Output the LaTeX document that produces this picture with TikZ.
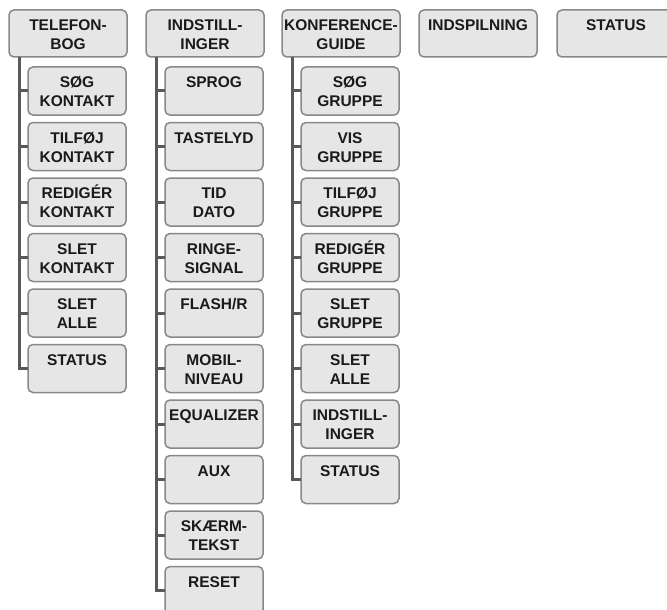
\documentclass[tikz,border=0pt]{standalone}
\usepackage{fontspec}
\setmainfont{Liberation Sans}
\definecolor{boxfill}{HTML}{E6E6E6}
\definecolor{boxline}{HTML}{888888}
\definecolor{spinegray}{HTML}{595959}
\definecolor{ink}{HTML}{1A1A1A}
\newcommand\capstrut{\rule{0pt}{14pt}}
\tikzset{
  menubox/.style={draw=boxline, fill=boxfill, line width=1.5pt, rounded corners=5pt,
    anchor=north west, inner sep=0pt, outer sep=0pt, minimum width=118pt, minimum height=47pt},
  subbox/.style={menubox, minimum width=98pt, minimum height=48pt},
  boxtext/.style={font=\bfseries\fontsize{15.5}{19}\selectfont, text=ink, align=center,
    inner sep=0pt, anchor=north, yshift=-6.5pt},
  spine/.style={draw=spinegray, line width=3pt},
}
\begin{document}
\begin{tikzpicture}[x=1pt, y=-1pt]
  \useasboundingbox (0,0) rectangle (667,610);
  \node[menubox, label={[boxtext]north:{\capstrut TELEFON-\\BOG}}] (tel) at (9,10) {};
  \node[menubox, label={[boxtext]north:{\capstrut INDSTILL-\\INGER}}] (ind) at (146,10) {};
  \node[menubox, label={[boxtext]north:{\capstrut KONFERENCE-\\GUIDE}}] (kon) at (282,10) {};
  \node[menubox, label={[boxtext]north:{\capstrut INDSPILNING}}] (rec) at (419,10) {};
  \node[menubox, label={[boxtext]north:{\capstrut STATUS}}] (sta) at (557,10) {};

  \foreach \txt [count=\i from 0] in {{SØG\\KONTAKT}, {TILFØJ\\KONTAKT}, {REDIGÉR\\KONTAKT},
      {SLET\\KONTAKT}, {SLET\\ALLE}, STATUS}
    \node[subbox, label={[boxtext]north:{\capstrut\txt}}] (tel\i) at (28,{67+55.5*\i}) {};
  \foreach \txt [count=\i from 0] in {SPROG, TASTELYD, {TID\\DATO}, {RINGE-\\SIGNAL}, FLASH/R,
      {MOBIL-\\NIVEAU}, EQUALIZER, AUX, {SKÆRM-\\TEKST}, RESET}
    \node[subbox, label={[boxtext]north:{\capstrut\txt}}] (ind\i) at (165,{67+55.5*\i}) {};
  \foreach \txt [count=\i from 0] in {{SØG\\GRUPPE}, {VIS\\GRUPPE}, {TILFØJ\\GRUPPE},
      {REDIGÉR\\GRUPPE}, {SLET\\GRUPPE}, {SLET\\ALLE}, {INDSTILL-\\INGER}, STATUS}
    \node[subbox, label={[boxtext]north:{\capstrut\txt}}] (kon\i) at (301,{67+55.5*\i}) {};

  \coordinate (telspine) at ([xshift=10.5pt]tel.south west);
  \coordinate (indspine) at ([xshift=10.5pt]ind.south west);
  \coordinate (konspine) at ([xshift=10.5pt]kon.south west);
  \draw[spine] (telspine) |- (tel5.west);
  \draw[spine] (indspine) |- (ind9.west);
  \draw[spine] (konspine) |- (kon7.west);
  \foreach \i in {0,...,4} \draw[spine] (telspine |- tel\i.west) -- (tel\i.west);
  \foreach \i in {0,...,8} \draw[spine] (indspine |- ind\i.west) -- (ind\i.west);
  \foreach \i in {0,...,6} \draw[spine] (konspine |- kon\i.west) -- (kon\i.west);
\end{tikzpicture}
\end{document}
